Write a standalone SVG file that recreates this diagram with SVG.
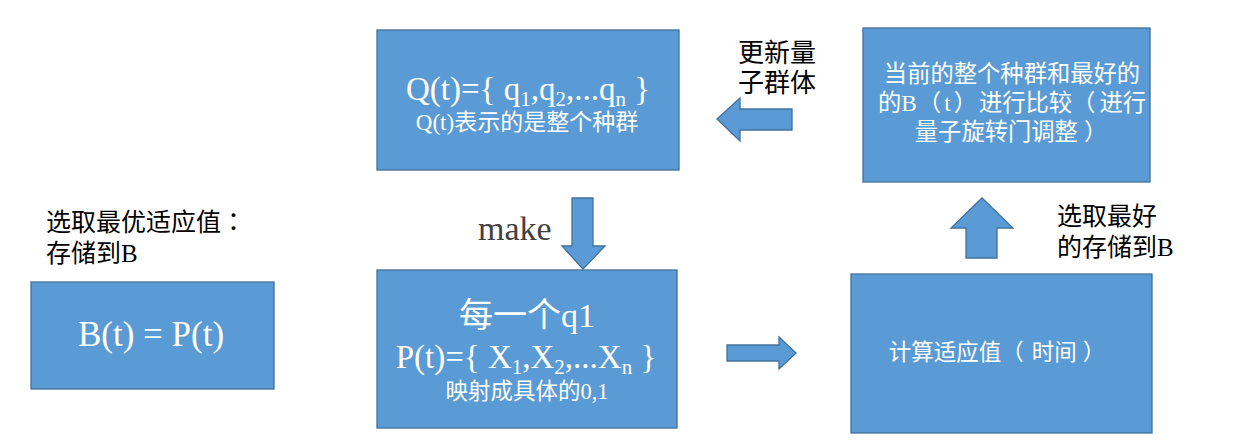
<svg xmlns="http://www.w3.org/2000/svg" width="1250" height="443" viewBox="0 0 1250 443">
<style>
.box{fill:#5B9BD5;stroke:#41719C;stroke-width:1.3}
.arr{fill:#5B9BD5;stroke:#41719C;stroke-width:1.3;stroke-linejoin:miter}
.t{font-family:"Liberation Serif","Noto Sans CJK SC",serif;text-anchor:middle}
.w{fill:#FFFFFF}
.lbl{font-family:"Liberation Serif","Noto Sans CJK SC",serif;fill:#000000}
.p{font-family:"Noto Sans CJK TC",sans-serif}
</style>
<rect width="1250" height="443" fill="#FFFFFF"/>
<g id="nodeQ">
<rect class="box" x="377" y="30" width="302" height="140"/>
<text class="t w" x="528" y="100" font-size="33">Q(t)={ q<tspan font-size="21" dy="6">1</tspan><tspan dy="-6">,q</tspan><tspan font-size="21" dy="6">2</tspan><tspan dy="-6">,...q</tspan><tspan font-size="21" dy="6">n</tspan><tspan dy="-6"> }</tspan></text>
<text class="t w" x="527" y="130" font-size="23">Q(t)表示的是整个种群</text>
</g>
<g id="nodeP">
<rect class="box" x="377" y="270" width="300" height="158"/>
<text class="t w" x="527" y="327" font-size="34">每一个q1</text>
<text class="t w" x="526" y="368" font-size="33">P(t)={ X<tspan font-size="21" dy="6">1</tspan><tspan dy="-6">,X</tspan><tspan font-size="21" dy="6">2</tspan><tspan dy="-6">,...X</tspan><tspan font-size="21" dy="6">n</tspan><tspan dy="-6"> }</tspan></text>
<text class="t w" x="527" y="399" font-size="22.5">映射成具体的0,1</text>
</g>
<g id="nodeCompare">
<rect class="box" x="863" y="28" width="287" height="154"/>
<text class="t w" x="1012" y="82" font-size="23.3">当前的整个种群和最好的</text>
<text class="t w" x="1012" y="111" font-size="23.3">的B<tspan class="p" dx="1">（</tspan><tspan dx="3">t</tspan><tspan class="p" dx="3">）</tspan><tspan dx="2">进行比较</tspan><tspan class="p">（</tspan><tspan dx="4">进行</tspan></text>
<text class="t w" x="1011" y="140" font-size="23.3">量子旋转门调整<tspan class="p" dx="6">）</tspan></text>
</g>
<g id="nodeB">
<rect class="box" x="31" y="282" width="243" height="107"/>
<text class="t w" x="151" y="346" font-size="35">B(t) = P(t)</text>
</g>
<g id="nodeFitness">
<rect class="box" x="851" y="274" width="301" height="159"/>
<text class="t w" x="997" y="360" font-size="22.5">计算适应值<tspan class="p">（</tspan><tspan dx="8">时间</tspan><tspan class="p" dx="6">）</tspan></text>
</g>
<g id="connectors">
<polygon class="arr" points="572,198 593,198 593,246 605,246 583,269 562,246 572,246"/>
<polygon class="arr" points="792,109 792,130 740,130 740,141 717,119 740,98 740,109"/>
<polygon class="arr" points="727,345 779,345 779,337 796,353 779,369 779,361 727,361"/>
<polygon class="arr" points="966,258 966,228 951,228 982,198 1013,228 997,228 997,258"/>
</g>
<g id="labels">
<text class="lbl" x="738" y="62" font-size="26">更新量</text>
<text class="lbl" x="738" y="92" font-size="26">子群体</text>
<text class="lbl" x="478" y="240" font-size="34" style="fill:#404040">make</text>
<text class="lbl" x="46" y="231" font-size="25">选取最优适应值<tspan class="p">：</tspan></text>
<text class="lbl" x="46" y="262" font-size="25">存储到B</text>
<text class="lbl" x="1057" y="225" font-size="25">选取最好</text>
<text class="lbl" x="1057" y="256" font-size="25">的存储到B</text>
</g>
</svg>
